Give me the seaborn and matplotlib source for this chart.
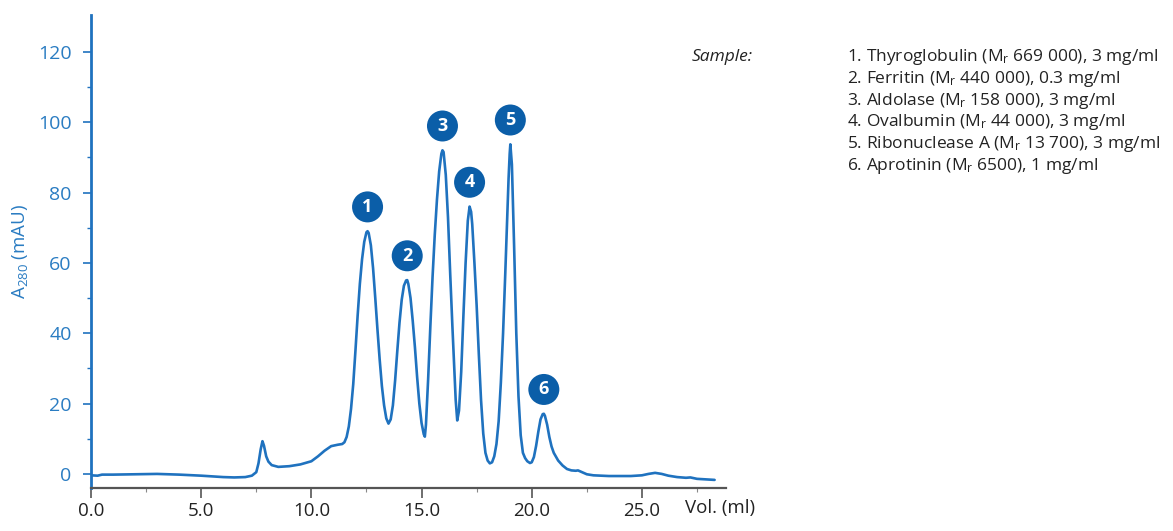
import matplotlib
matplotlib.use("Agg")
import matplotlib.pyplot as plt
import seaborn as sns
import pandas as pd

# ---------------- data ----------------
volume_ml = [
    0.0, 0.3, 0.5, 1.0, 2.0, 3.0, 4.0, 5.0, 6.0, 6.5, 7.0, 7.3, 7.5, 7.6, 7.7, 7.78, 7.85, 7.95, 8.05, 8.2,
    8.5, 9.0, 9.5, 10.0, 10.3, 10.6, 10.9, 11.2, 11.4, 11.5, 11.6, 11.7, 11.8, 11.9, 12.0, 12.1, 12.2, 12.3,
    12.4, 12.5, 12.55, 12.6, 12.7, 12.8, 12.9, 13.0, 13.1, 13.2, 13.3, 13.4, 13.5, 13.6, 13.7, 13.8, 13.9,
    14.0, 14.1, 14.2, 14.3, 14.35, 14.4, 14.5, 14.6, 14.7, 14.8, 14.9, 15.0, 15.1, 15.15, 15.2, 15.3, 15.4,
    15.5, 15.6, 15.7, 15.8, 15.9, 15.95, 16.0, 16.1, 16.2, 16.3, 16.4, 16.5, 16.55, 16.62, 16.7, 16.8, 16.9,
    17.0, 17.1, 17.18, 17.25, 17.3, 17.4, 17.5, 17.6, 17.7, 17.8, 17.9, 18.0, 18.1, 18.2, 18.3, 18.4, 18.5,
    18.6, 18.7, 18.8, 18.9, 18.95, 19.0, 19.03, 19.1, 19.2, 19.3, 19.4, 19.5, 19.6, 19.7, 19.8, 19.92, 20.0,
    20.1, 20.2, 20.3, 20.4, 20.5, 20.55, 20.6, 20.7, 20.8, 20.9, 21.0, 21.2, 21.4, 21.6, 21.8, 22.0, 22.1,
    22.25, 22.5, 22.8, 23.5, 24.0, 24.5, 25.0, 25.3, 25.6, 25.9, 26.2, 26.6, 27.0, 27.2, 27.5, 28.0, 28.3,
]
absorbance_mau = [
    -0.4, -0.5, -0.2, -0.2, -0.1, 0.0, -0.2, -0.5, -0.9, -1.0, -0.9, -0.5, 0.5, 3.0, 7.0, 9.3, 8.0, 5.0, 3.5, 2.5,
    2.0, 2.2, 2.7, 3.6, 5.0, 6.6, 7.9, 8.3, 8.5, 9.0, 10.5, 13.5, 18.5, 25.5, 35.0, 45.0, 54.0, 61.0,
    66.0, 68.7, 69.0, 68.5, 65.0, 58.5, 50.0, 41.0, 32.5, 25.0, 19.5, 15.8, 14.3, 15.5, 19.5, 26.5, 35.0,
    43.0, 49.5, 53.5, 55.0, 55.1, 54.0, 50.0, 43.5, 36.0, 27.5, 20.0, 14.5, 11.3, 10.6, 14.0, 27.0, 42.0,
    56.0, 68.0, 78.0, 86.0, 91.0, 92.0, 91.5, 85.0, 73.0, 57.0, 42.0, 28.0, 21.0, 15.2, 18.0, 29.0, 45.0,
    60.0, 72.0, 76.0, 74.5, 71.0, 60.0, 48.0, 34.0, 21.0, 11.5, 6.0, 3.8, 3.0, 3.3, 5.0, 8.5, 15.0,
    26.0, 40.0, 57.0, 75.0, 84.0, 91.0, 93.7, 88.0, 65.0, 40.0, 22.0, 11.0, 6.0, 4.5, 3.6, 3.1, 3.3,
    4.8, 8.0, 12.0, 15.5, 17.0, 17.1, 16.5, 14.0, 10.5, 7.8, 6.0, 3.8, 2.4, 1.4, 1.0, 0.9, 1.0,
    0.6, -0.1, -0.4, -0.6, -0.6, -0.6, -0.4, 0.0, 0.3, 0.0, -0.5, -0.9, -1.1, -1.0, -1.4, -1.6, -1.7,
]

peak_numbers = ["1", "2", "3", "4", "5", "6"]
peak_volume = [12.55, 14.35, 15.95, 17.18, 19.03, 20.55]
peak_height = [69.0, 55.1, 92.0, 76.0, 93.7, 17.1]

x_ticks = [0, 5, 10, 15, 20, 25]
x_tick_labels = ["0.0", "5.0", "10.0", "15.0", "20.0", "25.0"]
y_ticks = [0, 20, 40, 60, 80, 100, 120]

sample_title = "Sample:"
sample_lines = [
    "1. Thyroglobulin (M$_{\\mathrm{r}}$ 669 000), 3 mg/ml",
    "2. Ferritin (M$_{\\mathrm{r}}$ 440 000), 0.3 mg/ml",
    "3. Aldolase (M$_{\\mathrm{r}}$ 158 000), 3 mg/ml",
    "4. Ovalbumin (M$_{\\mathrm{r}}$ 44 000), 3 mg/ml",
    "5. Ribonuclease A (M$_{\\mathrm{r}}$ 13 700), 3 mg/ml",
    "6. Aprotinin (M$_{\\mathrm{r}}$ 6500), 1 mg/ml",
]

# ---------------- style ----------------
sns.set_style("ticks")
FONT = "Open Sans"
plt.rcParams["font.family"] = [FONT, "DejaVu Sans"]
plt.rcParams["mathtext.fontset"] = "custom"
plt.rcParams["mathtext.rm"] = FONT
plt.rcParams["mathtext.it"] = FONT + ":italic"

LINE = "#1f72bf"
AXBLUE = "#1f72bf"
LABELBLUE = "#2a7cc2"
CIRCLE = "#0b5ea8"

fig = plt.figure(figsize=(11.73, 5.31), dpi=100)
ax = fig.add_axes([0.0776, 0.081, 0.541, 0.891])

df = pd.DataFrame({"vol": volume_ml, "abs": absorbance_mau})
sns.lineplot(data=df, x="vol", y="abs", ax=ax, color=LINE, linewidth=1.9, sort=False)

ax.set_xlim(0, 28.8)
ax.set_ylim(-4, 130.5)
ax.set_xticks(x_ticks)
ax.set_xticklabels(x_tick_labels)
ax.set_yticks(y_ticks)
ax.set_xticks([2.5, 7.5, 12.5, 17.5, 22.5, 27.5], minor=True)
ax.set_yticks([10, 30, 50, 70, 90, 110], minor=True)

for s in ["top", "right"]:
    ax.spines[s].set_visible(False)
ax.spines["left"].set_color(AXBLUE)
ax.spines["left"].set_linewidth(2.0)
ax.spines["bottom"].set_color("#555555")
ax.spines["bottom"].set_linewidth(1.6)

ax.tick_params(axis="y", which="major", colors=AXBLUE, labelcolor=LABELBLUE,
               labelsize=14, length=6, width=1.2, pad=8)
ax.tick_params(axis="y", which="minor", colors=AXBLUE, length=3, width=1.0)
ax.tick_params(axis="x", which="major", colors="#555555", labelcolor="#222222",
               labelsize=13.5, length=7, width=1.2, pad=3)
ax.tick_params(axis="x", which="minor", colors="#888888", length=3, width=0.8)

ax.set_xlabel("")
ax.set_ylabel("A$_{280}$ (mAU)", color=LABELBLUE, fontsize=13.5, labelpad=6)

# x axis title at right end of axis, on tick-label row
ax.annotate("Vol. (ml)", xy=(1.0, 0), xycoords="axes fraction",
            xytext=(-29, -8), textcoords="offset points",
            ha="left", va="top", fontsize=13.5, color="#222222")

# peak number badges
for lab, px, py in zip(peak_numbers, peak_volume, peak_height):
    ax.annotate(lab, xy=(px, py), xytext=(0, 17.5), textcoords="offset points",
                ha="center", va="center", fontsize=13, fontweight="bold", color="white",
                bbox=dict(boxstyle="circle,pad=0.36", fc=CIRCLE, ec="none"))

# sample description
fig.text(692 / 1173, 1 - 57 / 531, sample_title, fontsize=12.5, style="italic",
         color="#222222", ha="left", va="center")
for i, line in enumerate(sample_lines):
    fig.text(847 / 1173, 1 - (57 + 21.8 * i) / 531, line, fontsize=12.5,
             color="#222222", ha="left", va="center")

fig.savefig("out.png", dpi=100)
